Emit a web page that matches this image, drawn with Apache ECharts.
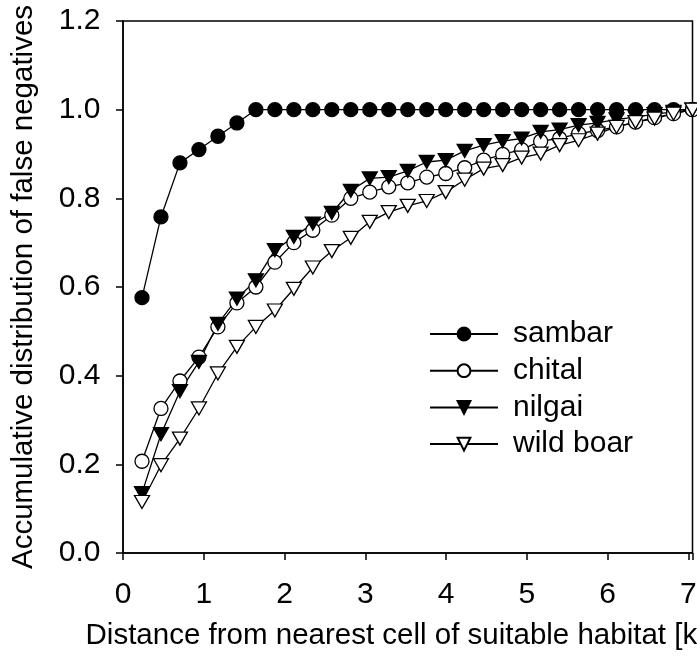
<!DOCTYPE html>
<html>
<head>
<meta charset="utf-8">
<script src="https://cdn.jsdelivr.net/npm/echarts@6/dist/echarts.min.js"></script>
<style>
  html, body { margin: 0; padding: 0; background: #fff; }
  #chart { width: 697px; height: 664px; }
</style>
</head>
<body>
<div id="chart"></div>
<script>
// distance from nearest cell of suitable habitat (km)
var distance = [0.235, 0.47, 0.705, 0.94, 1.175, 1.41, 1.645, 1.88, 2.115, 2.35,
    2.585, 2.82, 3.055, 3.29, 3.525, 3.76, 3.995, 4.23, 4.465, 4.7,
    4.935, 5.17, 5.405, 5.64, 5.875, 6.11, 6.345, 6.58, 6.815, 7.05];

var sambar = [0.576, 0.758, 0.88, 0.91, 0.94, 0.97, 1.0, 1.0, 1.0, 1.0,
    1.0, 1.0, 1.0, 1.0, 1.0, 1.0, 1.0, 1.0, 1.0, 1.0,
    1.0, 1.0, 1.0, 1.0, 1.0, 1.0, 1.0, 1.0, 1.0, 1.0];
var chital = [0.207, 0.326, 0.388, 0.442, 0.51, 0.564, 0.60, 0.656, 0.70, 0.728,
    0.762, 0.80, 0.814, 0.826, 0.835, 0.848, 0.856, 0.869, 0.886, 0.899,
    0.91, 0.929, 0.935, 0.946, 0.953, 0.961, 0.972, 0.982, 0.991, 1.0];
var nilgai = [0.135, 0.268, 0.365, 0.431, 0.517, 0.574, 0.615, 0.683, 0.713, 0.743,
    0.767, 0.817, 0.845, 0.848, 0.862, 0.882, 0.886, 0.907, 0.92, 0.929,
    0.935, 0.95, 0.955, 0.965, 0.97, 0.978, 0.983, 0.99, 0.995, 1.0];
var wildBoar = [0.115, 0.198, 0.258, 0.326, 0.405, 0.465, 0.51, 0.547, 0.596, 0.644,
    0.681, 0.711, 0.747, 0.769, 0.783, 0.794, 0.814, 0.842, 0.867, 0.875,
    0.892, 0.901, 0.92, 0.931, 0.946, 0.961, 0.972, 0.98, 0.991, 1.0];

var xTicks = [0, 1, 2, 3, 4, 5, 6, 7];
var yTicks = [0, 0.2, 0.4, 0.6, 0.8, 1.0, 1.2];

var FONT = 'Liberation Sans';

function pairs(ys) {
    var out = [];
    for (var i = 0; i < ys.length; i++) out.push([distance[i], ys[i]]);
    return out;
}

function mkSeries(name, ys, symbol, fill, rotate) {
    return {
        name: name,
        type: 'line',
        data: pairs(ys),
        symbol: symbol,
        symbolSize: symbol == 'circle' ? 14 : [15, 13],
        symbolRotate: rotate,
        showAllSymbol: true,
        lineStyle: { color: '#000', width: 1.3 },
        itemStyle: { color: fill, borderColor: '#000', borderWidth: 1.3 },
        emphasis: { disabled: true },
        animation: false
    };
}

var chart = echarts.init(document.getElementById('chart'));
var option = {
    backgroundColor: '#fff',
    animation: false,
    grid: {
        left: 123, right: 4.5, top: 21, bottom: 111,
        outerBoundsMode: 'none',
        show: true, borderColor: '#000', borderWidth: 1.5, backgroundColor: 'transparent'
    },
    legend: {
        orient: 'vertical',
        left: 429, top: 319, padding: 0,
        itemWidth: 68, itemHeight: 16, itemGap: 6.7,
        data: ['sambar', 'chital', 'nilgai', 'wild boar'],
        textStyle: { fontFamily: FONT, fontSize: 30, color: '#000', lineHeight: 28, padding: [0, 0, 0, 10] }
    },
    xAxis: {
        type: 'value', min: 0, max: 7.05, interval: 1,
        name: 'Distance from nearest cell of suitable habitat [km]',
        nameLocation: 'middle', nameGap: 68,
        nameTextStyle: { fontFamily: FONT, fontSize: 29.5, color: '#000' },
        axisLine: { lineStyle: { color: '#000', width: 1.5 } },
        axisTick: { show: true, length: 7, lineStyle: { color: '#000', width: 1.5 } },
        axisLabel: {
            margin: 26.5, fontFamily: FONT, fontSize: 30, color: '#000',
            formatter: function (v) { return xTicks.indexOf(v) >= 0 ? String(v) : ''; }
        },
        splitLine: { show: false }
    },
    yAxis: {
        type: 'value', min: 0, max: 1.2, interval: 0.2,
        name: 'Accumulative distribution of false negatives',
        nameLocation: 'middle', nameGap: 84,
        nameTextStyle: { fontFamily: FONT, fontSize: 29.5, color: '#000' },
        axisLine: { lineStyle: { color: '#000', width: 1.5 } },
        axisTick: { show: true, length: 7, lineStyle: { color: '#000', width: 1.5 } },
        axisLabel: {
            margin: 22.5, fontFamily: FONT, fontSize: 30, color: '#000',
            formatter: function (v) { return v.toFixed(1); }
        },
        splitLine: { show: false }
    },
    series: [
        mkSeries('sambar', sambar, 'circle', '#000', 0),
        mkSeries('chital', chital, 'circle', '#fff', 0),
        mkSeries('nilgai', nilgai, 'triangle', '#000', 180),
        mkSeries('wild boar', wildBoar, 'triangle', '#fff', 180)
    ]
};
chart.setOption(option);
</script>
</body>
</html>
